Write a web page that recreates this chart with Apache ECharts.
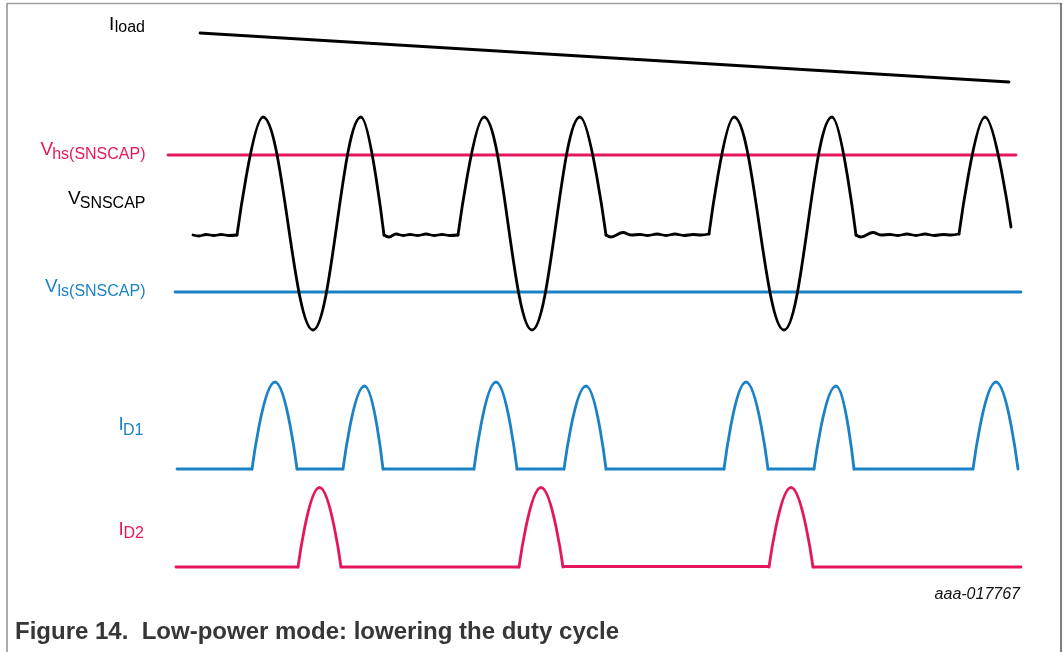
<!DOCTYPE html>
<html>
<head>
<meta charset="utf-8">
<script src="https://cdn.jsdelivr.net/npm/echarts@6/dist/echarts.min.js"></script>
<style>
  html, body { margin: 0; padding: 0; background: #fff; }
  #chart { width: 1063px; height: 652px; }
</style>
</head>
<body>
<div id="chart"></div>
<script>
// 颜色
const PINK = '#e5175b'
const BLUE = '#1b82c6'
const BLACK = '#000000'

// 负载电流（直线下降）
const iloadLine = [[200, 33], [1009, 82]]

// 阈值电平
const vhsLevel = [[168, 155], [1016, 155]]
const vlsLevel = [[175, 292], [1021, 292]]

// VSNSCAP 平台段（带小波纹）
const vsnsFlats = [
  [[193, 235], [199, 236], [206, 234.5], [214, 235.5], [221, 234.5], [229, 235.5], [237, 235]],
  [[384, 235], [389, 237], [396, 234], [403, 235.5], [410, 234.5], [418, 235.5], [426, 234], [434, 235.5], [442, 234.5], [450, 235.5], [458, 235]],
  [[606, 235], [611, 237], [623, 232.5], [631, 235], [640, 234.5], [648, 235.5], [657, 234], [666, 235.5], [675, 234], [684, 235.5], [693, 234.5], [701, 235], [709, 234]],
  [[856, 235], [861, 237], [873, 232.5], [881, 235], [890, 234.5], [898, 235.5], [907, 234], [916, 235.5], [925, 234], [934, 235.5], [943, 234.5], [951, 235], [959, 234]]
]

// VSNSCAP 振荡段（起点、峰、谷、峰、终点）
const vsnsBursts = [
  [[237, 235], [263, 117], [313, 330], [361, 117], [384, 235]],
  [[458, 235], [484, 117], [532, 330], [580, 117], [606, 235]],
  [[709, 234], [734, 117], [784, 330], [832, 117], [856, 235]],
  [[959, 234], [985, 117], [1011, 227]]
]

// ID1 基线与脉冲（起点、峰、终点）
const id1Base = [
  [[177, 469], [252, 469]], [[297, 469], [343, 469]], [[383, 469], [474, 469]],
  [[517, 469], [564, 469]], [[606, 469], [724, 469]], [[768, 469], [814, 469]],
  [[854, 469], [973, 469]]
]
const id1Pulses = [
  [[252, 469], [275, 382], [297, 469]],
  [[343, 469], [364.5, 386], [383, 469]],
  [[474, 469], [496, 382], [517, 469]],
  [[564, 469], [586, 386], [606, 469]],
  [[724, 469], [746, 382], [768, 469]],
  [[814, 469], [836, 386], [854, 469]],
  [[973, 469], [996, 382], [1018, 469]]
]

// ID2 基线与脉冲
const id2Base = [
  [[176, 567], [298, 567]], [[341, 567], [519, 567]],
  [[563, 566.5], [769, 566.5]], [[813, 567], [1021, 567]]
]
const id2Pulses = [
  [[298, 567], [319.5, 487.5], [341, 567]],
  [[519, 567], [541, 487.5], [563, 567]],
  [[769, 567], [791, 487.5], [813, 567]]
]

// 信号标签：[主字母, 下标, 颜色, 主字母左x, 主基线, 下标右x, 下标基线]
const signalLabels = [
  ['I', 'load', BLACK, 109, 31, 145, 33.5],
  ['V', 'hs(SNSCAP)', PINK, 40.5, 156, 145.5, 160],
  ['V', 'SNSCAP', BLACK, 68, 205, 145.5, 209],
  ['V', 'ls(SNSCAP)', BLUE, 45, 293, 145.5, 297],
  ['I', 'D1', BLUE, 118.5, 431.7, 143.5, 436],
  ['I', 'D2', PINK, 118.5, 536.7, 144, 539]
]

const FONT = '"Liberation Sans", Arial, sans-serif'
const MAIN_SIZE = 19
const SUB_SIZE = 16

// 生成折线（smooth 为 0 时为直线）
const makeLine = (data, color, smooth) => ({
  type: 'line',
  data: data,
  smooth: smooth || false,
  smoothMonotone: 'x',
  symbol: 'none',
  silent: true,
  lineStyle: { color: color, width: 2.8, cap: 'round', join: 'round' }
})

const series = []
series.push(makeLine(iloadLine, BLACK, 0))
series.push(makeLine(vhsLevel, PINK, 0))
series.push(makeLine(vlsLevel, BLUE, 0))
vsnsFlats.forEach((seg) => series.push(makeLine(seg, BLACK, 0.4)))
vsnsBursts.forEach((seg) => series.push(makeLine(seg, BLACK, 0.38)))
id1Base.forEach((seg) => series.push(makeLine(seg, BLUE, 0)))
id1Pulses.forEach((seg) => series.push(makeLine(seg, BLUE, 0.5)))
id2Base.forEach((seg) => series.push(makeLine(seg, PINK, 0)))
id2Pulses.forEach((seg) => series.push(makeLine(seg, PINK, 0.5)))

// 文字与边框
const graphic = []
signalLabels.forEach((l) => {
  graphic.push({
    type: 'text', x: l[3], y: l[4] - 0.347 * MAIN_SIZE, silent: true,
    style: { text: l[0], fill: l[2], font: MAIN_SIZE + 'px ' + FONT, textAlign: 'left', textVerticalAlign: 'middle' }
  })
  graphic.push({
    type: 'text', x: l[5], y: l[6] - 0.347 * SUB_SIZE, silent: true,
    style: { text: l[1], fill: l[2], font: SUB_SIZE + 'px ' + FONT, textAlign: 'right', textVerticalAlign: 'middle' }
  })
})
graphic.push({
  type: 'text', x: 1020, y: 600 - 0.347 * 16, silent: true,
  style: { text: 'aaa-017767', fill: '#111', font: 'italic 16px ' + FONT, textAlign: 'right', textVerticalAlign: 'middle' }
})
graphic.push({
  type: 'text', x: 15, y: 641 - 0.347 * 24, silent: true,
  style: { text: 'Figure 14.  Low-power mode: lowering the duty cycle', fill: '#363636', font: 'bold 24px ' + FONT, textAlign: 'left', textVerticalAlign: 'middle' }
})
graphic.push({ type: 'line', silent: true, shape: { x1: 7, y1: 3.5, x2: 1061, y2: 3.5 }, style: { stroke: '#a0a0a0', lineWidth: 1.5 } })
graphic.push({ type: 'line', silent: true, shape: { x1: 7, y1: 3, x2: 7, y2: 652 }, style: { stroke: '#909090', lineWidth: 1.5 } })
graphic.push({ type: 'line', silent: true, shape: { x1: 1061, y1: 3, x2: 1061, y2: 652 }, style: { stroke: '#555', lineWidth: 1.5 } })

const option = {
  animation: false,
  backgroundColor: '#fff',
  grid: { left: 0, right: 0, top: 0, bottom: 0 },
  xAxis: { type: 'value', min: 0, max: 1063, show: false },
  yAxis: { type: 'value', min: 0, max: 652, inverse: true, show: false },
  series: series,
  graphic: graphic
}

const chart = echarts.init(document.getElementById('chart'), null, { renderer: 'canvas' })
chart.setOption(option)
</script>
</body>
</html>
